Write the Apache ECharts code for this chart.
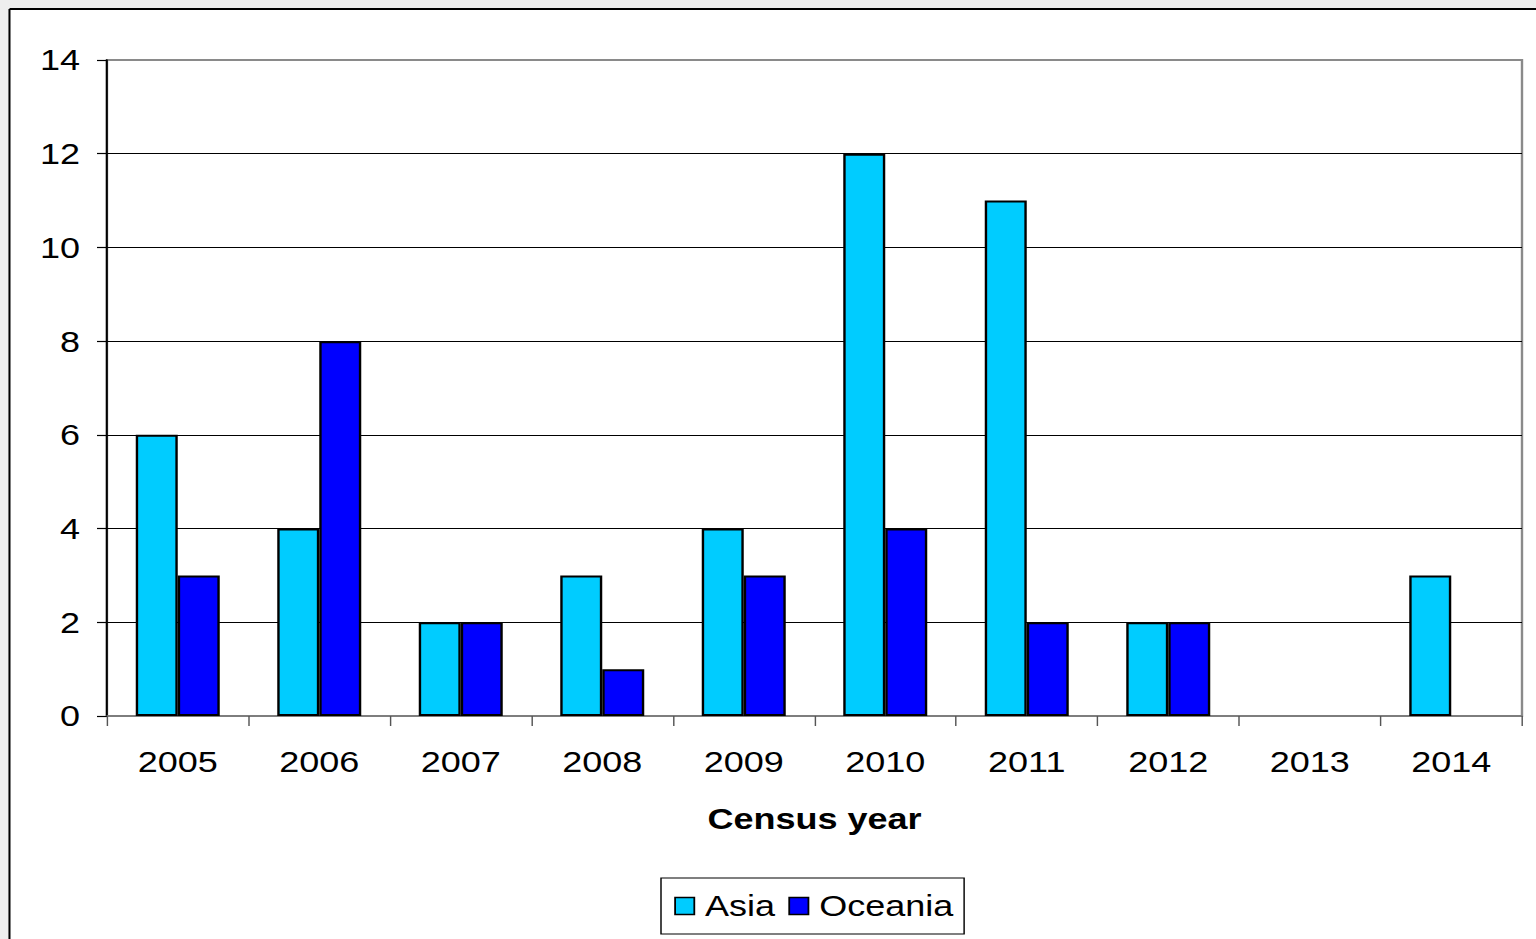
<!DOCTYPE html>
<html>
<head>
<meta charset="utf-8">
<script src="https://cdn.jsdelivr.net/npm/echarts@6/dist/echarts.min.js"></script>
<style>
html,body{margin:0;padding:0;overflow:hidden;background:#fff;}
#c{width:1280px;height:939px;transform:scaleX(1.2);transform-origin:0 0;}
</style>
</head>
<body>
<div id="c"></div>
<script>
var categories = ['2005','2006','2007','2008','2009','2010','2011','2012','2013','2014'];
var asia = [6,4,2,3,4,12,11,2,0,3];
var oceania = [3,8,2,1,3,4,2,2,0,0];
var yTicks = [0,2,4,6,8,10,12,14];

var S = 1.2; // horizontal stretch of the original picture
var FONT = '"Liberation Sans", Arial, sans-serif';

function toData(arr){
  return arr.map(function(v){ return v === 0 ? {value: v, itemStyle: {borderWidth: 0}} : v; });
}

var chart = echarts.init(document.getElementById('c'), null, {renderer: 'svg'});
chart.setOption({
  animation: false,
  backgroundColor: '#fff',
  textStyle: {fontFamily: FONT},
  graphic: [
    {type: 'rect', shape: {x: 0, y: 0, width: 1280, height: 8}, style: {fill: '#eeeeee'}, silent: true},
    {type: 'rect', shape: {x: 0, y: 0, width: 7.5, height: 939}, style: {fill: '#eeeeee'}, silent: true},
    {type: 'line', shape: {x1: 7.9, y1: 9, x2: 7.9, y2: 939}, style: {stroke: '#000', lineWidth: 1.7}, silent: true},
    {type: 'line', shape: {x1: 7.9, y1: 9, x2: 1280, y2: 9}, style: {stroke: '#000', lineWidth: 2}, silent: true}
  ],
  grid: {
    left: 107 / S, right: 14 / S, top: 60, bottom: 223,
    show: true, borderColor: '#8a8a8a', borderWidth: 2, backgroundColor: 'transparent'
  },
  legend: {
    data: ['Asia', 'Oceania'],
    icon: 'rect',
    left: 661 / S, top: 878,
    orient: 'horizontal',
    itemWidth: 16, itemHeight: 17,
    itemGap: 11,
    padding: [10, 9, 10, 11],
    borderColor: '#000', borderWidth: 1.2,
    textStyle: {fontSize: 30, color: '#000', fontFamily: FONT, lineHeight: 36, padding: [0, 0, 0, 4]},
    itemStyle: {borderWidth: 1.5, borderColor: '#000'}
  },
  xAxis: {
    type: 'category',
    data: categories,
    name: 'Census year',
    nameLocation: 'middle',
    nameGap: 88,
    nameTextStyle: {fontSize: 30, fontWeight: 'bold', color: '#000', fontFamily: FONT},
    axisLine: {show: true, lineStyle: {color: '#7a7a7a', width: 1.5}},
    axisTick: {show: true, alignWithLabel: false, length: 10, lineStyle: {color: '#555', width: 1.2}},
    axisLabel: {fontSize: 30, color: '#000', margin: 31, fontFamily: FONT},
    splitLine: {show: false}
  },
  yAxis: {
    type: 'value',
    min: yTicks[0], max: yTicks[yTicks.length - 1], interval: 2,
    axisLine: {show: true, lineStyle: {color: '#000', width: 1.7}},
    axisTick: {show: true, length: 10 / S, lineStyle: {color: '#000', width: 1.2}},
    axisLabel: {fontSize: 30, color: '#000', margin: 27 / S, fontFamily: FONT},
    splitLine: {show: true, showMinLine: false, showMaxLine: false, lineStyle: {color: '#000', width: 1}}
  },
  series: [
    {
      name: 'Asia', type: 'bar', data: toData(asia),
      barWidth: 35, barGap: '0%',
      itemStyle: {color: '#00CCFF', borderColor: '#000', borderWidth: 2}
    },
    {
      name: 'Oceania', type: 'bar', data: toData(oceania),
      barWidth: 35, barGap: '0%',
      itemStyle: {color: '#0000FF', borderColor: '#000', borderWidth: 2}
    }
  ]
});
</script>
</body>
</html>
